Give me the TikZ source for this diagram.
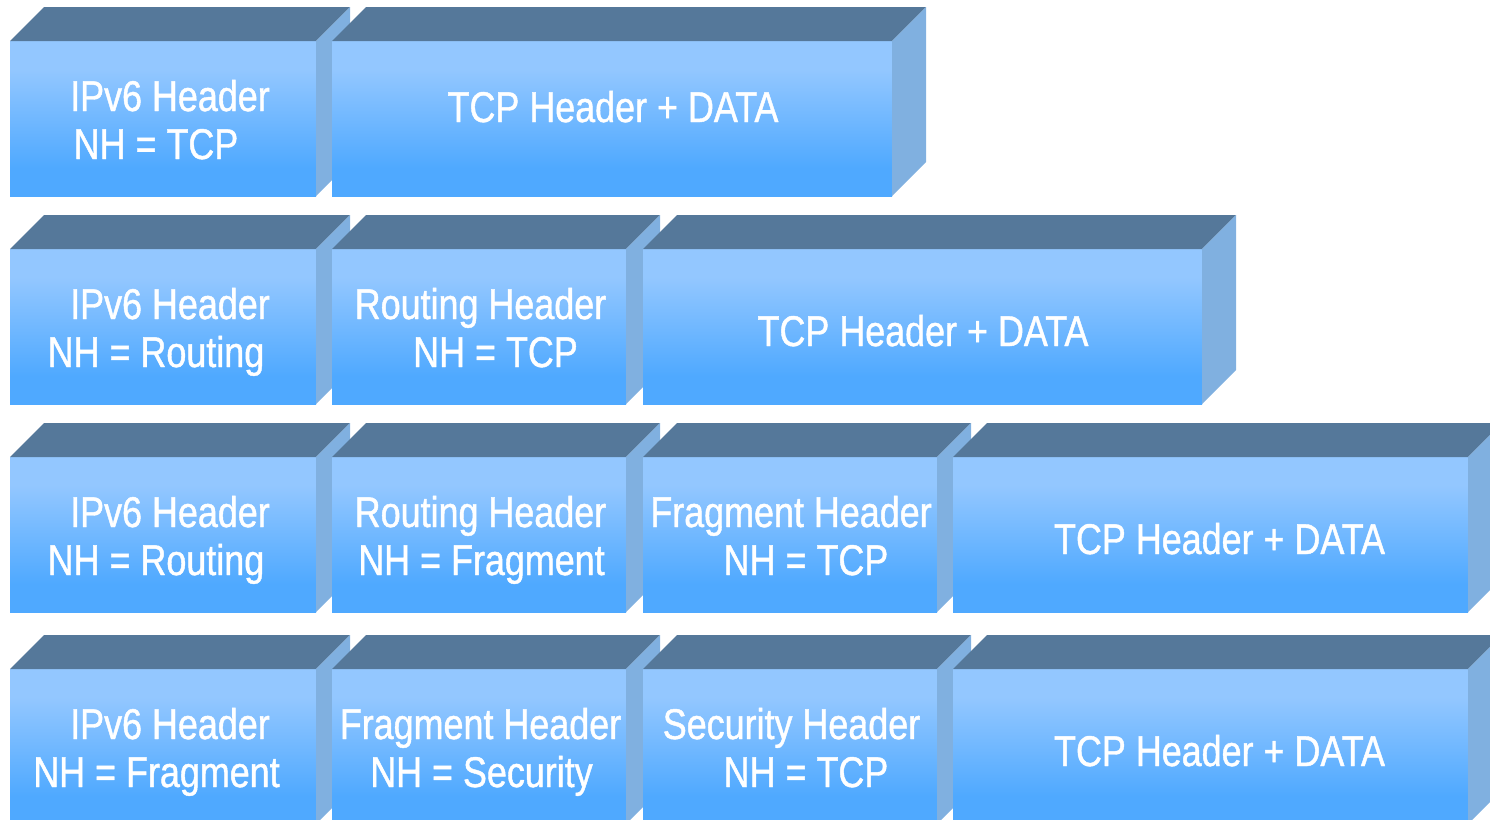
\documentclass[tikz,border=0pt]{standalone}
\usepackage{fontspec}
\setmainfont{Liberation Sans}[FakeStretch=0.835, FakeBold=1]
\usetikzlibrary{calc}

\definecolor{topface}{HTML}{55789A}
\definecolor{sideface}{HTML}{80B0E0}
\definecolor{frontlight}{HTML}{93C7FF}
\definecolor{frontdark}{HTML}{4FA9FF}

\pgfdeclareverticalshading{frontshade}{100bp}{%
  color(0bp)=(frontdark); color(34bp)=(frontdark);
  color(66bp)=(frontlight); color(100bp)=(frontlight)}

\tikzset{
  front/.style={rectangle, inner sep=0pt, outer sep=0pt, draw=none, shading=frontshade},
  topf/.style={fill=topface},
  sidef/.style={fill=sideface},
  lbl/.style={text=white, font=\fontsize{43}{48}\selectfont, anchor=base, inner sep=0pt}
}

% a 3-D packet block: name, left x, right x, top y of the front face
\newcommand\pktblock[4]{%
  \node[front, minimum width={#3-#2}, minimum height=155] (#1) at ({(#2+#3)/2},{#4+77.5}) {};
  \fill[topf] (#1.north west) -- ++(34,-34) -- ($(#1.north east)+(34,-34)$) -- (#1.north east) -- cycle;
  \fill[sidef] (#1.north east) -- ++(34,-34) -- ($(#1.south east)+(34,-34)$) -- (#1.south east) -- cycle;
}

\begin{document}
\begin{tikzpicture}[x=1pt, y=-1pt]
\useasboundingbox (0,0) rectangle (1490,819);
\clip (0,0) rectangle (1490,819);

% row 1
\pktblock{ra1}{10}{316}{41}
\pktblock{ra2}{332}{892}{41}
\node[lbl] (ta1a) at (170,111) {IPv6 Header};
\node[lbl] (ta1b) at (156,159) {NH = TCP};
\node[lbl] (ta2) at (613,122) {TCP Header + DATA};

% row 2
\pktblock{rb1}{10}{316}{249}
\pktblock{rb2}{332}{626}{249}
\pktblock{rb3}{643}{1202}{249}
\node[lbl] (tb1a) at (170,319) {IPv6 Header};
\node[lbl] (tb1b) at (156,367) {NH = Routing};
\node[lbl] (tb2a) at (480.5,319) {Routing Header};
\node[lbl] (tb2b) at (495.5,367) {NH = TCP};
\node[lbl] (tb3) at (923,346) {TCP Header + DATA};

% row 3
\pktblock{rc1}{10}{316}{457}
\pktblock{rc2}{332}{626}{457}
\pktblock{rc3}{643}{937}{457}
\pktblock{rc4}{953}{1468}{457}
\node[lbl] (tc1a) at (170,527) {IPv6 Header};
\node[lbl] (tc1b) at (156,575) {NH = Routing};
\node[lbl] (tc2a) at (480.5,527) {Routing Header};
\node[lbl] (tc2b) at (481.5,575) {NH = Fragment};
\node[lbl] (tc3a) at (791,527) {Fragment Header};
\node[lbl] (tc3b) at (806,575) {NH = TCP};
\node[lbl] (tc4) at (1219.5,554) {TCP Header + DATA};

% row 4
\pktblock{rd1}{10}{316}{669}
\pktblock{rd2}{332}{626}{669}
\pktblock{rd3}{643}{937}{669}
\pktblock{rd4}{953}{1468}{669}
\node[lbl] (td1a) at (170,739) {IPv6 Header};
\node[lbl] (td1b) at (156.5,787) {NH = Fragment};
\node[lbl] (td2a) at (480.5,739) {Fragment Header};
\node[lbl] (td2b) at (481.5,787) {NH = Security};
\node[lbl] (td3a) at (791.5,739) {Security Header};
\node[lbl] (td3b) at (806,787) {NH = TCP};
\node[lbl] (td4) at (1219.5,766) {TCP Header + DATA};
\end{tikzpicture}
\end{document}
